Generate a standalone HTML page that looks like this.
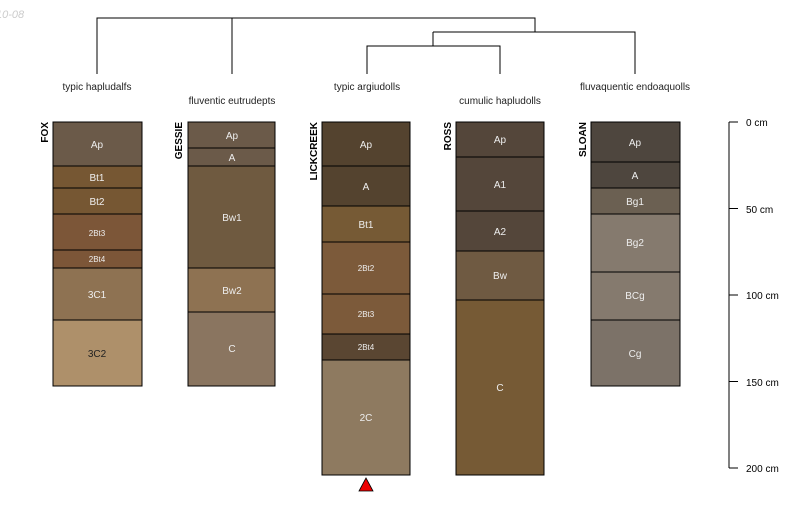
<!DOCTYPE html>
<html><head><style>body{margin:0;background:#fff}</style></head><body>
<svg width="800" height="500" xmlns="http://www.w3.org/2000/svg" font-family="Liberation Sans, sans-serif">
<text x="-4" y="18" font-size="11" fill="#ccc" font-style="italic">10-08</text>
<g stroke="#000" fill="none" stroke-width="1">
<path d="M97 74V18H535V32M232 18V74M433 32H635V74M433 32V46M367 74V46H500V74"/>
</g>
<g font-size="10" fill="#222" text-anchor="middle">
<text x="97" y="90">typic hapludalfs</text>
<text x="232" y="104">fluventic eutrudepts</text>
<text x="367" y="90">typic argiudolls</text>
<text x="500" y="104">cumulic hapludolls</text>
<text x="635" y="90">fluvaquentic endoaquolls</text>
</g>
<g stroke="#000" stroke-width="1" font-size="10" text-anchor="middle">
<!-- FOX -->
<rect x="53" y="122" width="89" height="44" fill="#6b5a49"/><text x="97" y="148" fill="#eee" stroke="none">Ap</text>
<rect x="53" y="166" width="89" height="22" fill="#765733"/><text x="97" y="181" fill="#eee" stroke="none">Bt1</text>
<rect x="53" y="188" width="89" height="26" fill="#765733"/><text x="97" y="205" fill="#eee" stroke="none">Bt2</text>
<rect x="53" y="214" width="89" height="36" fill="#7c5638"/><text x="97" y="236" fill="#eee" stroke="none" font-size="8">2Bt3</text>
<rect x="53" y="250" width="89" height="18" fill="#7c5638"/><text x="97" y="262" fill="#eee" stroke="none" font-size="8">2Bt4</text>
<rect x="53" y="268" width="89" height="52" fill="#8e7252"/><text x="97" y="298" fill="#eee" stroke="none">3C1</text>
<rect x="53" y="320" width="89" height="66" fill="#ae906a"/><text x="97" y="357" fill="#222" stroke="none">3C2</text>
<!-- GESSIE -->
<rect x="188" y="122" width="87" height="26" fill="#6b5a49"/><text x="232" y="139" fill="#eee" stroke="none">Ap</text>
<rect x="188" y="148" width="87" height="18" fill="#6b5a49"/><text x="232" y="161" fill="#eee" stroke="none">A</text>
<rect x="188" y="166" width="87" height="102" fill="#6f5a40"/><text x="232" y="221" fill="#eee" stroke="none">Bw1</text>
<rect x="188" y="268" width="87" height="44" fill="#8e7252"/><text x="232" y="294" fill="#eee" stroke="none">Bw2</text>
<rect x="188" y="312" width="87" height="74" fill="#8a7560"/><text x="232" y="352" fill="#eee" stroke="none">C</text>
<!-- LICKCREEK -->
<rect x="322" y="122" width="88" height="44" fill="#54432f"/><text x="366" y="148" fill="#eee" stroke="none">Ap</text>
<rect x="322" y="166" width="88" height="40" fill="#54432f"/><text x="366" y="190" fill="#eee" stroke="none">A</text>
<rect x="322" y="206" width="88" height="36" fill="#765a35"/><text x="366" y="228" fill="#eee" stroke="none">Bt1</text>
<rect x="322" y="242" width="88" height="52" fill="#7c5a3a"/><text x="366" y="271" fill="#eee" stroke="none" font-size="8">2Bt2</text>
<rect x="322" y="294" width="88" height="40" fill="#7c5a3a"/><text x="366" y="317" fill="#eee" stroke="none" font-size="8">2Bt3</text>
<rect x="322" y="334" width="88" height="26" fill="#5a4632"/><text x="366" y="350" fill="#eee" stroke="none" font-size="8">2Bt4</text>
<rect x="322" y="360" width="88" height="115" fill="#8e7a60"/><text x="366" y="421" fill="#eee" stroke="none">2C</text>
<!-- ROSS -->
<rect x="456" y="122" width="88" height="35" fill="#54463a"/><text x="500" y="143" fill="#eee" stroke="none">Ap</text>
<rect x="456" y="157" width="88" height="54" fill="#54463a"/><text x="500" y="188" fill="#eee" stroke="none">A1</text>
<rect x="456" y="211" width="88" height="40" fill="#54463a"/><text x="500" y="235" fill="#eee" stroke="none">A2</text>
<rect x="456" y="251" width="88" height="49" fill="#6f5a42"/><text x="500" y="279" fill="#eee" stroke="none">Bw</text>
<rect x="456" y="300" width="88" height="175" fill="#765a35"/><text x="500" y="391" fill="#eee" stroke="none">C</text>
<!-- SLOAN -->
<rect x="591" y="122" width="89" height="40" fill="#4e463e"/><text x="635" y="146" fill="#eee" stroke="none">Ap</text>
<rect x="591" y="162" width="89" height="26" fill="#4e463e"/><text x="635" y="179" fill="#eee" stroke="none">A</text>
<rect x="591" y="188" width="89" height="26" fill="#6b6052"/><text x="635" y="205" fill="#eee" stroke="none">Bg1</text>
<rect x="591" y="214" width="89" height="58" fill="#857a6e"/><text x="635" y="246" fill="#eee" stroke="none">Bg2</text>
<rect x="591" y="272" width="89" height="48" fill="#857a6e"/><text x="635" y="299" fill="#eee" stroke="none">BCg</text>
<rect x="591" y="320" width="89" height="66" fill="#7c7268"/><text x="635" y="357" fill="#eee" stroke="none">Cg</text>
</g>
<g font-size="10" font-weight="bold" fill="#000">
<text transform="translate(48,122) rotate(-90)" text-anchor="end">FOX</text>
<text transform="translate(182,122) rotate(-90)" text-anchor="end">GESSIE</text>
<text transform="translate(317,122) rotate(-90)" text-anchor="end">LICKCREEK</text>
<text transform="translate(451,122) rotate(-90)" text-anchor="end">ROSS</text>
<text transform="translate(586,122) rotate(-90)" text-anchor="end">SLOAN</text>
</g>
<polygon points="359,491 373,491 366,478" fill="#e00" stroke="#000" stroke-width="0.8"/>
<g stroke="#000" stroke-width="1">
<path d="M729 122V468M729 122H738M729 208.5H738M729 295H738M729 381.5H738M729 468H738"/>
</g>
<g font-size="10" fill="#000">
<text x="746" y="126">0 cm</text>
<text x="746" y="213">50 cm</text>
<text x="746" y="299">100 cm</text>
<text x="746" y="386">150 cm</text>
<text x="746" y="472">200 cm</text>
</g>
</svg>
</body></html>
